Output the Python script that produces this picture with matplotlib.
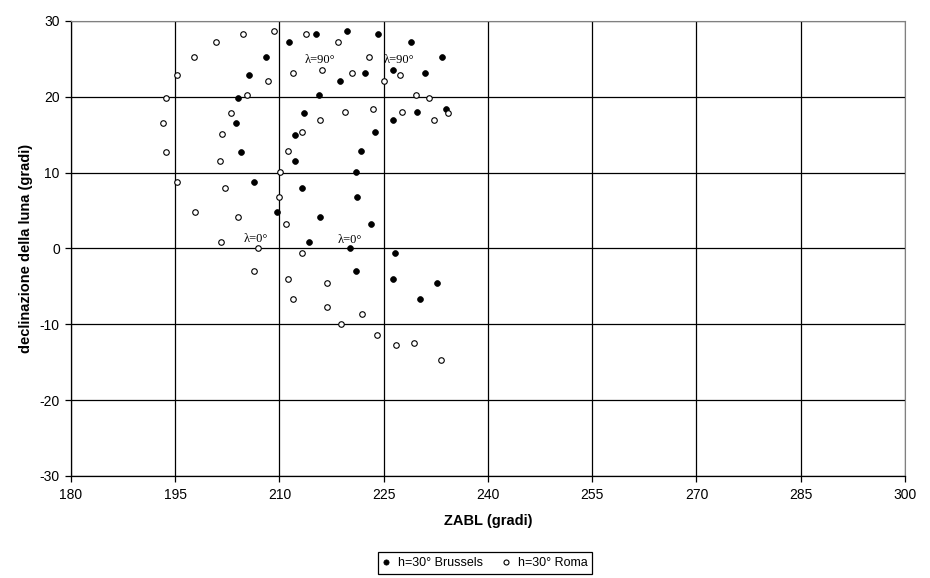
import matplotlib as mpl
import matplotlib.pyplot as plt

mpl.use('Agg')

# declinazione della luna vs ZABL, h=30 deg
brussels_x = [211.4, 215.3, 219.7, 224.2, 228.9, 233.4, 208.1, 205.6, 204.1, 203.8,
              212.2, 213.5, 215.7, 218.7, 222.3, 226.4, 230.9, 226.4, 229.8, 233.9,
              223.7, 204.4, 212.2, 206.3, 209.6, 221.8, 221.0, 213.3, 221.2, 215.9,
              223.1, 214.3, 220.1, 226.6, 221.0, 226.4, 232.6, 230.2]
brussels_y = [27.2, 28.3, 28.7, 28.3, 27.2, 25.2, 25.2, 22.9, 19.8, 16.5,
              15.0, 17.9, 20.2, 22.1, 23.1, 23.5, 23.1, 16.9, 18.0, 18.4,
              15.3, 12.7, 11.5, 8.8, 4.8, 12.8, 10.1, 8.0, 6.8, 4.1,
              3.2, 0.8, 0.1, -0.6, -3.0, -4.0, -4.6, -6.6]

roma_x = [195.2, 197.7, 200.9, 204.8, 209.2, 211.9, 208.3, 205.3, 193.7, 203.0,
          193.2, 201.7, 213.8, 218.4, 222.9, 216.1, 220.5, 225.1, 227.3, 229.7,
          231.5, 219.5, 223.4, 215.9, 227.7, 232.3, 234.2, 213.2, 193.7, 201.5,
          211.2, 210.1, 195.2, 202.2, 209.9, 197.9, 204.0, 210.9, 201.6, 206.9,
          213.2, 206.3, 211.2, 212.0, 216.8, 216.8, 221.9, 218.8, 224.0, 226.7,
          229.3, 233.3]
roma_y = [22.9, 25.2, 27.2, 28.3, 28.7, 23.1, 22.1, 20.2, 19.8, 17.9,
          16.5, 15.1, 28.3, 27.2, 25.2, 23.5, 23.1, 22.1, 22.9, 20.2,
          19.8, 18.0, 18.4, 16.9, 18.0, 16.9, 17.9, 15.3, 12.7, 11.5,
          12.8, 10.1, 8.8, 8.0, 6.8, 4.8, 4.1, 3.2, 0.8, 0.1,
          -0.6, -3.0, -4.0, -6.6, -4.6, -7.7, -8.6, -9.9, -11.4, -12.7,
          -12.5, -14.7]

# etichette lambda
lam_labels = ['λ=90°', 'λ=90°', 'λ=0°', 'λ=0°']
lam_x = [215.8, 227.2, 206.6, 220.1]
lam_y = [24.9, 24.9, 1.2, 1.1]

plt.rcParams['font.family'] = ['Liberation Sans', 'DejaVu Sans']
plt.rcParams['axes.unicode_minus'] = False

fig = plt.figure(figsize=(9.3, 5.78), dpi=100)
ax = fig.add_axes([0.0763, 0.1765, 0.8968, 0.7872])

ax.grid(True, color='black', linewidth=0.9)
ax.set_axisbelow(True)

ax.plot(brussels_x, brussels_y, 'o', color='black', markersize=4.2,
        markeredgewidth=0.5, label='h=30° Brussels', zorder=3)
ax.plot(roma_x, roma_y, 'o', markerfacecolor='white', markeredgecolor='black',
        markersize=4.0, markeredgewidth=0.8, label='h=30° Roma', zorder=3)

for t, x, y in zip(lam_labels, lam_x, lam_y):
    ax.text(x, y, t, ha='center', va='center', fontsize=9,
            family=['Liberation Serif', 'DejaVu Serif'], zorder=4)

ax.set_xlim(180, 300)
ax.set_ylim(-30, 30)
ax.set_xticks(range(180, 301, 15))
ax.set_yticks(range(-30, 31, 10))
ax.tick_params(direction='out', length=4, width=0.9, labelsize=10, colors='black')
ax.tick_params(axis='y', pad=4)
ax.tick_params(axis='x', pad=5)

for s in ['top', 'right']:
    ax.spines[s].set_color('#808080')
for s in ['left', 'bottom']:
    ax.spines[s].set_color('black')
    ax.spines[s].set_linewidth(0.9)

ax.set_xlabel('ZABL (gradi)', fontsize=10.5, fontweight='bold', labelpad=8)
ax.set_ylabel('declinazione della luna (gradi)', fontsize=10.5, fontweight='bold', labelpad=5)

leg = fig.legend(loc='center', bbox_to_anchor=(0.5215, 0.026), ncol=2, fontsize=9,
                 frameon=True, fancybox=False, edgecolor='black', framealpha=1,
                 handlelength=0.6, handletextpad=0.6, columnspacing=1.6,
                 borderpad=0.4, markerscale=0.9)
leg.get_frame().set_linewidth(0.9)

plt.savefig('out.png', dpi=100)
